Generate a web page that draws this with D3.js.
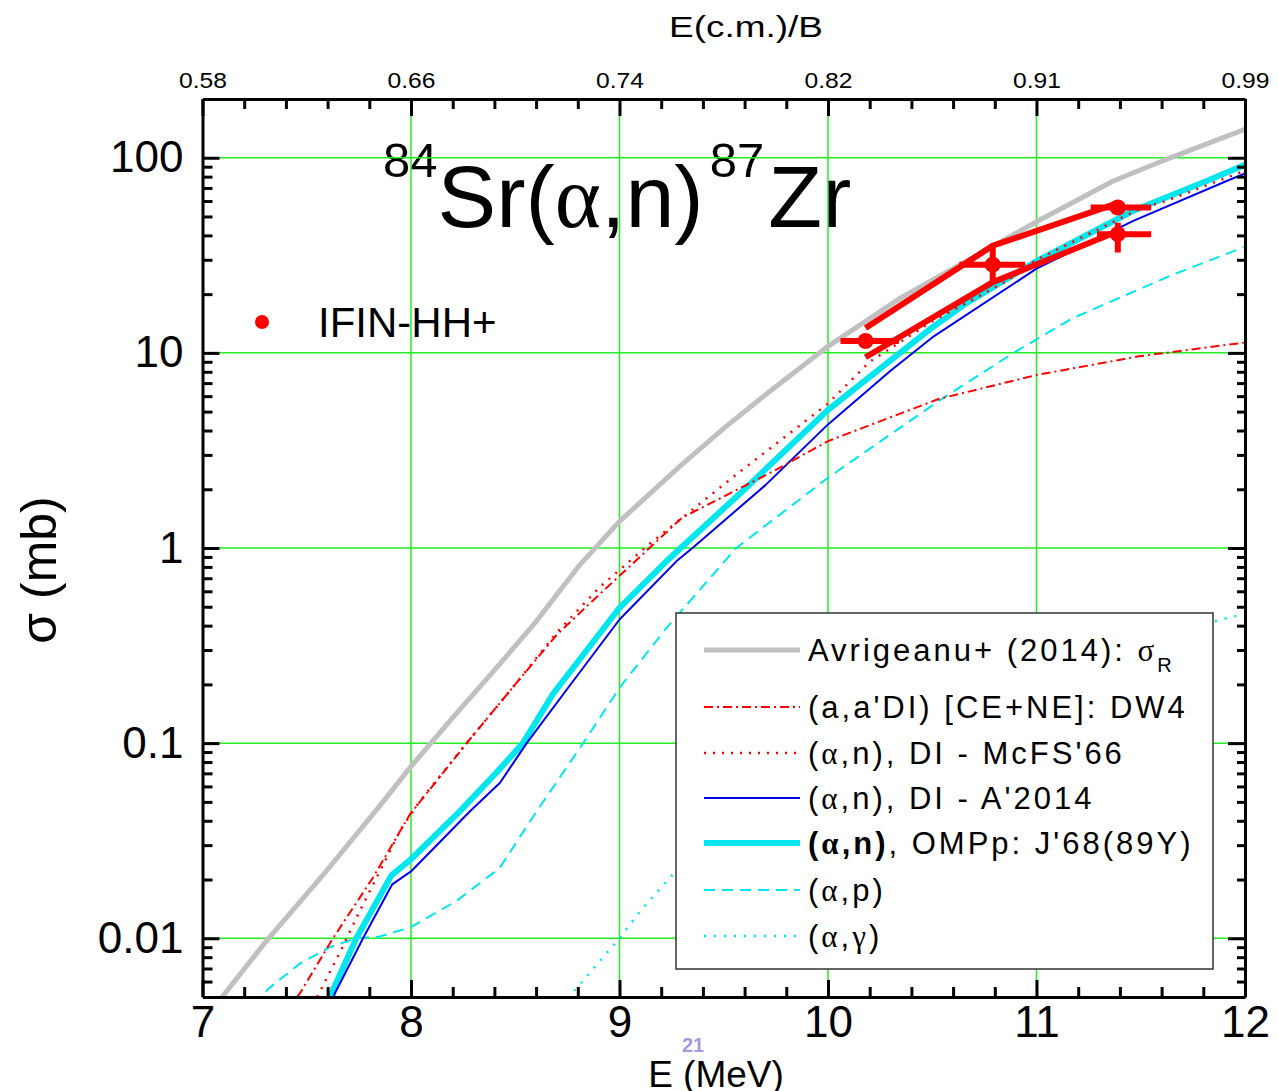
<!DOCTYPE html>
<html>
<head>
<meta charset="utf-8">
<script src="https://cdn.jsdelivr.net/npm/d3@7"></script>
<style>
  body { margin: 0; background: #fff; }
  svg { display: block; font-family: "Liberation Sans", Arial, sans-serif; }
</style>
</head>
<body>
<div id="chart"></div>
<script>
// ---- data ----
var xTicks = [7, 8, 9, 10, 11, 12];
var topTickLabels = ["0.58", "0.66", "0.74", "0.82", "0.91", "0.99"];
var yTicks = [0.01, 0.1, 1, 10, 100];
var yTickLabels = ["0.01", "0.1", "1", "10", "100"];
var gridE = [8, 9, 10, 11];

// [E (MeV), sigma (mb)]
var avrigeanuSigR = [[7.05,0.0043],[7.094,0.005],[7.30,0.0095],[7.6,0.0225],[7.852,0.048],[8.0,0.076],[8.2,0.135],
  [8.413,0.245],[8.6,0.42],[8.81,0.82],[9.0,1.37],[9.3,2.68],[9.5,4.1],[9.7,6.1],[10.0,10.8],[10.344,19],
  [10.7,31],[11.0,47],[11.368,76],[11.6,96],[12.0,140]];
var dw4 = [[7.40,0.0042],[7.466,0.0052],[7.626,0.01],[7.818,0.0205],[7.994,0.043],[8.267,0.1],[8.5,0.2],[8.7,0.36],
  [8.905,0.58],[9.0,0.72],[9.3,1.43],[9.74,2.48],[10.0,3.53],[10.53,5.8],[11.0,7.7],[11.49,9.6],[12.0,11.3]];
var mcfs66 = [[7.50,0.0042],[7.55,0.005],[7.66,0.0085],[7.75,0.0135],[7.85,0.022],[7.95,0.036],[8.04,0.05],
  [8.267,0.1],[8.5,0.2],[8.7,0.37],[8.905,0.63],[9.14,1.04],[9.56,2.38],[10.0,5.5],[10.2,9.0],[10.5,14.5],
  [10.86,23.4],[11.0,30],[11.5,55],[11.62,60],[12.0,86]];
var a2014 = [[7.62,0.0045],[7.634,0.0052],[7.77,0.01],[7.91,0.0189],[8.0,0.022],[8.283,0.0448],[8.427,0.0627],
  [8.555,0.1],[8.75,0.19],[9.0,0.43],[9.274,0.857],[9.35,1.0],[9.7,2.1],[10.0,4.3],[10.3,8.1],[10.5,12],
  [11.0,27],[11.464,47.5],[11.912,76],[12.0,83]];
var ompJ68 = [[7.60,0.0045],[7.618,0.0052],[7.738,0.01],[7.906,0.021],[8.0,0.0254],[8.235,0.0448],[8.417,0.072],
  [8.537,0.1],[8.68,0.178],[9.0,0.494],[9.226,0.857],[9.6,2.0],[10.0,5.1],[10.25,8.3],[10.5,13.5],[10.664,18],
  [11.0,29.5],[11.464,53.5],[11.816,76],[12.0,92]];
var alphaP = [[7.25,0.0045],[7.315,0.0055],[7.466,0.0074],[7.61,0.009],[7.738,0.01],[7.85,0.0102],[8.0,0.0114],
  [8.217,0.0155],[8.425,0.0229],[8.603,0.0448],[8.826,0.1],[9.0,0.192],[9.226,0.39],[9.56,1.0],[10.0,2.29],
  [10.53,5.66],[10.89,10],[11.17,15],[11.64,24.8],[12.0,35]];
var alphaGamma = [[8.72,0.0045],[8.784,0.0054],[9.0,0.01],[9.1,0.0138],[9.3,0.024],[9.6,0.045],[10.0,0.085],
  [10.5,0.16],[11.0,0.25],[11.5,0.35],[11.85,0.42],[12.0,0.46]];

// IFIN-HH+ points
var expE = [10.18, 10.79, 11.39, 11.39];
var expSigma = [11.5, 28.3, 40.6, 55.6];
var expELo = [10.06, 10.63, 11.29, 11.26];
var expEHi = [10.34, 10.945, 11.55, 11.55];
var expSigLo = [10.6, 23.0, 32.7, 52];
var expSigHi = [12.5, 35.4, 46.5, 59];
var bandUpper = [[10.18, 13.4], [10.79, 35.4], [11.39, 58.5]];
var bandLower = [[10.18, 9.5], [10.79, 23.0], [11.39, 42]];

// ---- layout ----
var W = 1278, H = 1091;
var plotL = 202.5, plotR = 1245, plotT = 99, plotB = 997;

var svg = d3.select("#chart").append("svg")
    .attr("width", W)
    .attr("height", H);

var x = d3.scaleLinear().domain([7, 12]).range([plotL, plotR]);
var y = d3.scaleLog().domain([0.005, 200]).range([plotB, plotT]);

svg.append("defs").append("clipPath").attr("id", "plotclip")
  .append("rect")
    .attr("x", plotL).attr("y", plotT)
    .attr("width", plotR - plotL).attr("height", plotB - plotT);

// title (grid is drawn over it in the original)
var title = svg.append("text")
    .attr("x", 383)
    .attr("y", 177)
    .attr("font-size", 49)
    .attr("fill", "#000");
title.append("tspan").text("84");
title.append("tspan").attr("font-size", 88).attr("dy", 50).text("Sr(");
title.append("tspan").attr("font-size", 88).attr("font-family", "'Liberation Serif', serif").text("\u03b1");
title.append("tspan").attr("font-size", 88).text(",n)");
title.append("tspan").attr("font-size", 49).attr("dy", -50).attr("dx", 6).text("87");
title.append("tspan").attr("font-size", 88).attr("dy", 50).attr("dx", 4).text("Zr");

// green grid
svg.append("g")
  .selectAll("line")
  .data(gridE)
  .enter().append("line")
    .attr("x1", d => x(d)).attr("x2", d => x(d))
    .attr("y1", plotT).attr("y2", plotB)
    .attr("stroke", "#22ee22").attr("stroke-width", 1.5);
svg.append("g")
  .selectAll("line")
  .data(yTicks)
  .enter().append("line")
    .attr("x1", plotL).attr("x2", plotR)
    .attr("y1", d => y(d)).attr("y2", d => y(d))
    .attr("stroke", "#22ee22").attr("stroke-width", 1.5);

// curves
var line = d3.line()
    .x(d => x(d[0]))
    .y(d => y(d[1]));

var series = [
  {data: avrigeanuSigR, color: "#c0c0c0", width: 5, dash: null},
  {data: alphaP, color: "#00e6ee", width: 2, dash: "11,7"},
  {data: alphaGamma, color: "#00e6ee", width: 2.5, dash: "2,8"},
  {data: ompJ68, color: "#00e6ee", width: 6, dash: null},
  {data: a2014, color: "#0000ee", width: 2, dash: null},
  {data: dw4, color: "#ff0000", width: 2, dash: "9,4,2,4"},
  {data: mcfs66, color: "#ff0000", width: 2.5, dash: "2,7"}
];

var curves = svg.append("g").attr("clip-path", "url(#plotclip)");
series.forEach(function(s) {
  curves.append("path")
    .datum(s.data)
    .attr("fill", "none")
    .attr("stroke", s.color)
    .attr("stroke-width", s.width)
    .attr("stroke-linejoin", "round")
    .attr("stroke-dasharray", s.dash)
    .attr("d", line);
});

// experimental points
var exp = svg.append("g").attr("clip-path", "url(#plotclip)");
[bandUpper, bandLower].forEach(function(b) {
  exp.append("path")
    .datum(b)
    .attr("fill", "none")
    .attr("stroke", "red")
    .attr("stroke-width", 6)
    .attr("d", line);
});
expE.forEach(function(e, i) {
  exp.append("line")
    .attr("x1", x(expELo[i])).attr("x2", x(expEHi[i]))
    .attr("y1", y(expSigma[i])).attr("y2", y(expSigma[i]))
    .attr("stroke", "red").attr("stroke-width", 6);
  exp.append("line")
    .attr("x1", x(e)).attr("x2", x(e))
    .attr("y1", y(expSigLo[i])).attr("y2", y(expSigHi[i]))
    .attr("stroke", "red").attr("stroke-width", 6);
  exp.append("circle")
    .attr("cx", x(e)).attr("cy", y(expSigma[i]))
    .attr("r", 8).attr("fill", "red");
});

// IFIN-HH+ key
svg.append("circle").attr("cx", 262).attr("cy", 322).attr("r", 7).attr("fill", "red");
svg.append("text")
    .attr("x", 318).attr("y", 337)
    .attr("font-size", 42)
    .text("IFIN-HH+");

// legend box
var lg = svg.append("g");
lg.append("rect")
    .attr("x", 676).attr("y", 613)
    .attr("width", 537).attr("height", 356)
    .attr("fill", "#fff")
    .attr("stroke", "#333").attr("stroke-width", 1.5);

var rowY = [650, 707, 753, 798, 843, 890, 936];
var legendStyle = [0, 5, 6, 4, 3, 1, 2].map(i => series[i]);
legendStyle.forEach(function(s, i) {
  lg.append("line")
    .attr("x1", 704).attr("x2", 800)
    .attr("y1", rowY[i]).attr("y2", rowY[i])
    .attr("stroke", s.color)
    .attr("stroke-width", s.width)
    .attr("stroke-dasharray", s.dash);
});

function legText(i) {
  return lg.append("text")
    .attr("x", 808).attr("y", rowY[i] + 11)
    .attr("font-size", 31)
    .attr("letter-spacing", 3);
}
function alpha(t) {
  t.append("tspan").attr("font-family", "'Liberation Serif', serif").text("\u03b1");
}
var t0 = legText(0);
t0.append("tspan").text("Avrigeanu+ (2014): ");
t0.append("tspan").attr("font-family", "'Liberation Serif', serif").text("\u03c3");
t0.append("tspan").attr("font-size", 20).attr("dy", 11).text("R");

legText(1).text("(a,a'DI) [CE+NE]: DW4");

var t2 = legText(2);
t2.append("tspan").text("(");
alpha(t2);
t2.append("tspan").text(",n), DI - McFS'66");

var t3 = legText(3);
t3.append("tspan").text("(");
alpha(t3);
t3.append("tspan").text(",n), DI - A'2014");

var t4 = legText(4);
var tb = t4.append("tspan").attr("font-weight", "bold");
tb.append("tspan").text("(");
tb.append("tspan").attr("font-family", "'Liberation Serif', serif").text("\u03b1");
tb.append("tspan").text(",n)");
t4.append("tspan").text(", OMPp: J'68(89Y)");

var t5 = legText(5);
t5.append("tspan").text("(");
alpha(t5);
t5.append("tspan").text(",p)");

var t6 = legText(6);
t6.append("tspan").text("(");
alpha(t6);
t6.append("tspan").text(",");
t6.append("tspan").attr("font-family", "'Liberation Serif', serif").text("\u03b3");
t6.append("tspan").text(")");

// ---- axes ----
var minorE = d3.range(7.2, 12, 0.2).filter(v => Math.abs(v - Math.round(v)) > 0.01);
var minorS = [];
[-3, -2, -1, 0, 1, 2].forEach(function(p) {
  for (var k = 2; k <= 9; k++) {
    var v = k * Math.pow(10, p);
    if (v > 0.005 && v < 200) minorS.push(v);
  }
});

function styleAxis(g, fs) {
  g.attr("font-family", "'Liberation Sans', Arial, sans-serif").attr("font-size", fs);
  g.select(".domain").attr("stroke", "#000").attr("stroke-width", 3);
  g.selectAll(".tick line").attr("stroke", "#000").attr("stroke-width", 3);
  g.selectAll(".tick text").attr("fill", "#000");
}
function noDomain(g) {
  g.select(".domain").remove();
  g.selectAll(".tick line").attr("stroke", "#000").attr("stroke-width", 3);
}

// bottom
svg.append("g").attr("transform", "translate(0," + plotB + ")")
  .call(d3.axisBottom(x).tickValues(minorE).tickSize(-10).tickFormat(""))
  .call(noDomain);
svg.append("g").attr("transform", "translate(0," + plotB + ")")
  .call(d3.axisBottom(x).tickValues(xTicks).tickSize(-17).tickSizeOuter(0).tickPadding(9).tickFormat(d3.format("d")))
  .call(styleAxis, 44);

// top
svg.append("g").attr("transform", "translate(0," + plotT + ")")
  .call(d3.axisTop(x).tickValues(minorE).tickSize(-10).tickFormat(""))
  .call(noDomain);
svg.append("g").attr("transform", "translate(0," + plotT + ")")
  .call(d3.axisTop(x).tickValues(xTicks).tickSize(-17).tickSizeOuter(0).tickPadding(11)
    .tickFormat((d, i) => topTickLabels[i]))
  .call(styleAxis, 22)
  .selectAll(".tick text")
    .attr("textLength", 48)
    .attr("lengthAdjust", "spacingAndGlyphs");

// left
svg.append("g").attr("transform", "translate(" + plotL + ",0)")
  .call(d3.axisLeft(y).tickValues(minorS).tickSize(-10).tickFormat(""))
  .call(noDomain);
svg.append("g").attr("transform", "translate(" + plotL + ",0)")
  .call(d3.axisLeft(y).tickValues(yTicks).tickSize(-17).tickSizeOuter(0).tickPadding(19)
    .tickFormat((d, i) => yTickLabels[i]))
  .call(styleAxis, 44);

// right
svg.append("g").attr("transform", "translate(" + plotR + ",0)")
  .call(d3.axisRight(y).tickValues(minorS).tickSize(-8).tickFormat(""))
  .call(noDomain);
svg.append("g").attr("transform", "translate(" + plotR + ",0)")
  .call(d3.axisRight(y).tickValues(yTicks).tickSize(-17).tickSizeOuter(0).tickFormat(""))
  .call(styleAxis, 10);

// axis titles
svg.append("text")
    .attr("x", 746).attr("y", 37)
    .attr("text-anchor", "middle")
    .attr("font-size", 30)
    .attr("textLength", 154)
    .attr("lengthAdjust", "spacingAndGlyphs")
    .text("E(c.m.)/B");

svg.append("text")
    .attr("x", 716).attr("y", 1087)
    .attr("text-anchor", "middle")
    .attr("font-size", 37)
    .text("E (MeV)");

svg.append("text")
    .attr("x", 693).attr("y", 1052)
    .attr("text-anchor", "middle")
    .attr("font-size", 20)
    .attr("font-weight", "bold")
    .attr("fill", "#a898e0")
    .text("21");

svg.append("text")
    .attr("transform", "translate(56,570) rotate(-90)")
    .attr("text-anchor", "middle")
    .attr("font-size", 50)
    .text("\u03c3 (mb)");
</script>
</body>
</html>
